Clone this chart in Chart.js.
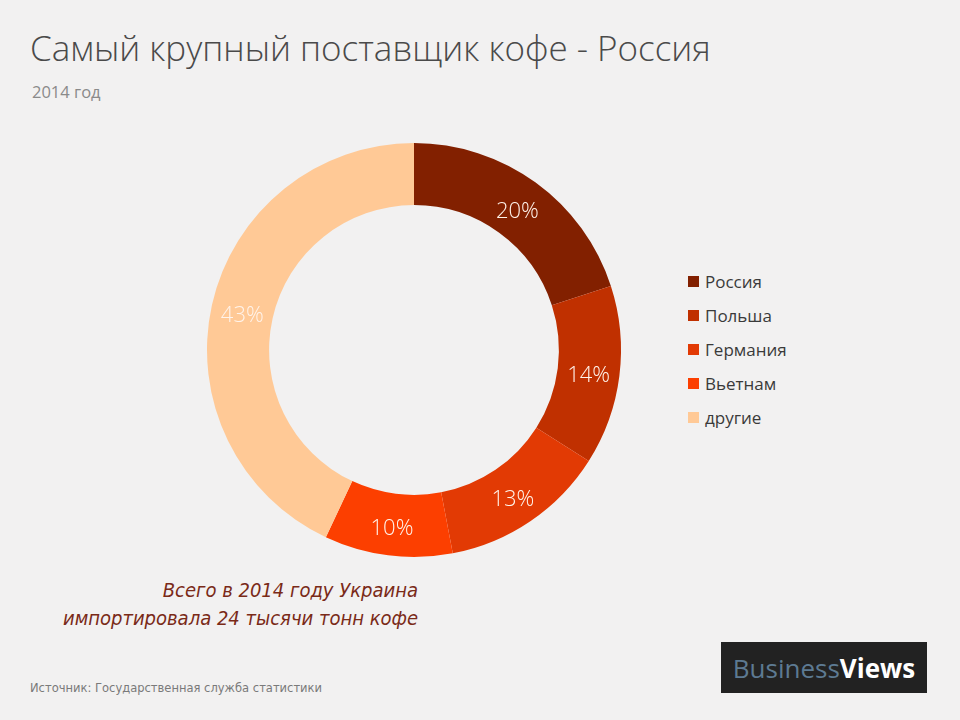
<!DOCTYPE html>
<html lang="ru">
<head>
<meta charset="utf-8">
<script src="https://cdn.jsdelivr.net/npm/chart.js@4"></script>
<style>
    body { margin: 0; background: #f2f1f1; width: 960px; height: 720px; position: relative; overflow: hidden; font-family: "Open Sans", "Noto Sans", sans-serif; }
    #title { position: absolute; left: 30px; top: 24px; font-size: 35px; font-weight: 300; color: #4a4a4a; white-space: nowrap; }
    #sub { position: absolute; left: 32px; top: 80px; font-size: 16.5px; color: #8a8a8a; }
    #wrap { position: absolute; left: 200px; top: 136px; width: 428px; height: 428px; }
    #legend { position: absolute; left: 688px; top: 264px; list-style: none; margin: 0; padding: 0; }
    #legend li { height: 34px; font-size: 17px; color: #3a3a3a; display: flex; align-items: center; }
    #legend span { display: inline-block; width: 11px; height: 11px; margin-right: 6px; }
    #note { position: absolute; right: 542px; top: 576px; text-align: right; font-family: "DejaVu Sans Condensed", "DejaVu Sans", sans-serif; font-style: italic; font-size: 20px; line-height: 28px; color: #7a2a18; white-space: nowrap; }
    #src { position: absolute; left: 30px; top: 680px; font-family: "DejaVu Sans Condensed", "DejaVu Sans", sans-serif; font-size: 12.8px; color: #7a7a7a; }
    #logo { position: absolute; left: 721px; top: 642px; width: 206px; height: 51px; background: #222; display: flex; align-items: center; justify-content: center; font-size: 26px; }
    #logo .b { color: #5d7a92; }
    #logo .v { color: #fff; font-weight: bold; }
</style>
</head>
<body>
<div id="title">Самый крупный поставщик кофе - Россия</div>
<div id="sub">2014 год</div>
<div id="wrap"><canvas id="chart"></canvas></div>
<ul id="legend"></ul>
<div id="note">Всего в 2014 году Украина<br>импортировала 24 тысячи тонн кофе</div>
<div id="src">Источник: Государственная служба статистики</div>
<div id="logo"><span class="b">Business</span><span class="v">Views</span></div>
<script>
const countries = ["Россия", "Польша", "Германия", "Вьетнам", "другие"];
const shares = [20, 14, 13, 10, 43];
const colors = ["#822000", "#c03000", "#e23a04", "#fc3f00", "#ffc996"];

const legend = document.getElementById("legend");
countries.forEach((name, i) => {
    const li = document.createElement("li");
    li.innerHTML = `<span style="background:${colors[i]}"></span>${name}`;
    legend.appendChild(li);
});

// percent labels in the middle of each ring segment
const sliceLabels = {
    id: "sliceLabels",
    afterDatasetsDraw(chart) {
        const ctx = chart.ctx;
        const meta = chart.getDatasetMeta(0);
        ctx.save();
        ctx.font = "300 22px 'Open Sans', sans-serif";
        ctx.fillStyle = "#fff3ea";
        ctx.textAlign = "center";
        ctx.textBaseline = "middle";
        meta.data.forEach((arc, i) => {
            const p = arc.tooltipPosition();
            ctx.fillText(shares[i] + "%", p.x, p.y + 4);
        });
        ctx.restore();
    }
};

const ctx = document.getElementById("chart").getContext("2d");
const chart = new Chart(ctx, {
    type: "doughnut",
    data: {
        labels: countries,
        datasets: [
            {
                data: shares,
                backgroundColor: colors,
                borderWidth: 0
            },
        ],
    },
    options: {
        responsive: true,
        maintainAspectRatio: false,
        animation: false,
        cutout: "70%",
        layout: { padding: 7 },
        plugins: {
            legend: { display: false },
            tooltip: { enabled: false }
        }
    },
    plugins: [sliceLabels]
});
</script>
</body>
</html>
